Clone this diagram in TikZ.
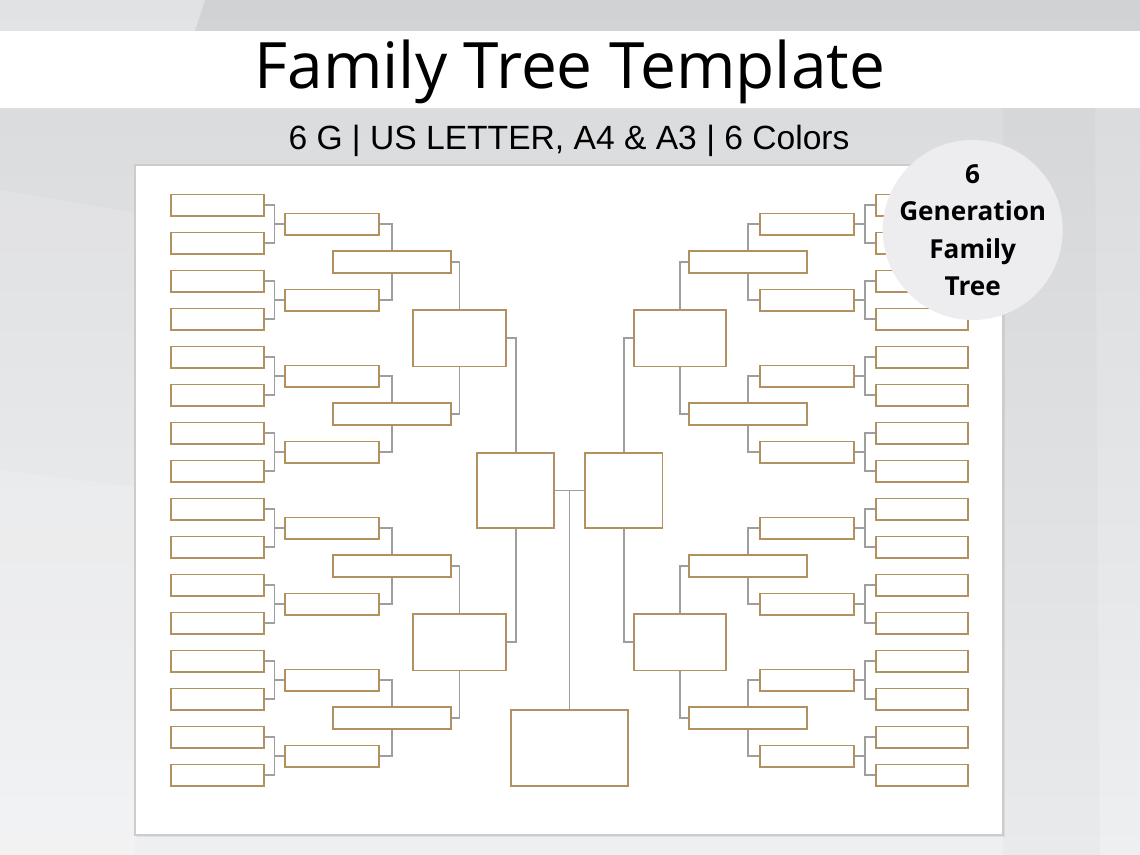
\documentclass[tikz,border=0pt]{standalone}
\usepackage{fontspec}
\setmainfont{Liberation Sans}
\newfontfamily\titlefont{Open Sans}
\newfontfamily\badgefont{Open Sans}
\usetikzlibrary{positioning,calc}
\definecolor{boxgold}{HTML}{B0915F}
\definecolor{linkgrey}{HTML}{9E9E9E}
\definecolor{bgtop}{HTML}{D8D9DB}
\definecolor{bgbottom}{HTML}{EEEFF1}
\definecolor{badgefill}{HTML}{EDEDEF}

\begin{document}
\begin{tikzpicture}[x=0.025cm, y=-0.025cm,
  box/.style={draw=boxgold, fill=white, line width=1.2pt, inner sep=0pt},
  gsix/.style={box, minimum width=2.31cm, minimum height=0.54cm},
  gfive/.style={box, minimum width=2.35cm, minimum height=0.54cm},
  gfour/.style={box, minimum width=2.95cm, minimum height=0.55cm},
  gthree/.style={box, minimum width=2.31cm, minimum height=1.41cm},
  gtwo/.style={box, minimum width=1.93cm, minimum height=1.89cm},
  gone/.style={box, minimum width=2.93cm, minimum height=1.89cm},
  link/.style={draw=linkgrey, line width=1.15pt}]
\useasboundingbox (0,0) rectangle (1140,855);
\fill[top color=bgtop, bottom color=bgbottom] (0,0) rectangle (1140,855);
\fill[white, opacity=.25] (0,0) -- (205,0) -- (195,31) -- (0,31) -- cycle;
\fill[black, opacity=.03] (205,0) -- (1140,0) -- (1140,31) -- (195,31) -- cycle;
\fill[white, opacity=.12] (0,190) -- (135,213) -- (135,855) -- (0,855) -- cycle;
\fill[white, opacity=.15] (0,470) -- (135,487) -- (135,855) -- (0,855) -- cycle;
\fill[black, opacity=.02] (1003,108) -- (1095,108) -- (1100,855) -- (1003,855) -- cycle;
\fill[white] (0,31) rectangle (1140,108);
\node[font=\titlefont\fontsize{45.5}{52}\selectfont, anchor=base] (title) at (570,88.3) {Family Tree Template};
\node[font=\fontsize{23.9}{28}\selectfont, anchor=base] (subtitle) at (569,149) {6 G | US LETTER, A4 \& A3 | 6 Colors};
\fill[black, opacity=.06] (137,167) rectangle (1005,837);
\draw[fill=white, draw=gray!40, line width=0.8pt] (135,165) rectangle (1003,835);
\foreach \k in {0,...,15}{\node[gsix] (l6-\k) at (217.5,{205.2+38*\k}) {}; \node[gsix] (r6-\k) at (922.1,{205.2+38*\k}) {};}
\foreach \j in {0,...,7}{\node[gfive] (l5-\j) at (332.3,{224.2+76*\j}) {}; \node[gfive] (r5-\j) at (807.3,{224.2+76*\j}) {};}
\foreach \i in {0,...,3}{\node[gfour] (l4-\i) at (391.7,{262.2+152*\i}) {}; \node[gfour] (r4-\i) at (747.9,{262.2+152*\i}) {};}
\foreach \h in {0,1}{\node[gthree] (l3-\h) at (459.5,{338.2+304*\h}) {}; \node[gthree] (r3-\h) at (680.1,{338.2+304*\h}) {};}
\node[gtwo] (l2) at (515.7,490.5) {};
\node[gtwo] (r2) at (623.9,490.5) {};
\node[gone] (root) at (569.5,748) {};
\foreach \j in {0,...,7}{
  \pgfmathtruncatemacro\a{2*\j}\pgfmathtruncatemacro\b{2*\j+1}
  \coordinate (lj-\j) at ($(l6-\a.east)!.5!(l5-\j.west)$);
  \coordinate (rj-\j) at ($(r6-\a.west)!.5!(r5-\j.east)$);
  \draw[link] (l6-\a.east) -| (lj-\j) |- (l6-\b.east) (lj-\j) |- (l5-\j.west);
  \draw[link] (r6-\a.west) -| (rj-\j) |- (r6-\b.west) (rj-\j) |- (r5-\j.east);}
\foreach \i in {0,...,3}{
  \pgfmathtruncatemacro\a{2*\i}\pgfmathtruncatemacro\b{2*\i+1}
  \draw[link] (l5-\a.east) -| (l4-\i.north);
  \draw[link] (l5-\b.east) -| (l4-\i.south);
  \draw[link] (r5-\a.west) -| (r4-\i.north);
  \draw[link] (r5-\b.west) -| (r4-\i.south);}
\foreach \h in {0,1}{
  \pgfmathtruncatemacro\a{2*\h}\pgfmathtruncatemacro\b{2*\h+1}
  \draw[link] (l4-\a.east) -| (l3-\h.north);
  \draw[link] (l4-\b.east) -| (l3-\h.south);
  \draw[link] (r4-\a.west) -| (r3-\h.north);
  \draw[link] (r4-\b.west) -| (r3-\h.south);}
\draw[link] (l3-0.east) -| (l2.north);
\draw[link] (l3-1.east) -| (l2.south);
\draw[link] (r3-0.west) -| (r2.north);
\draw[link] (r3-1.west) -| (r2.south);
\draw[link] (l2) -- (r2);
\draw[link] (root.north) -- (root.north |- l2.east);
\node[circle, fill=badgefill, minimum size=4.5cm, inner sep=0pt] (badge) at (972.7,230) {};
\node[font=\badgefont\bfseries\fontsize{18.6}{26.7}\selectfont, align=center] (badgetext) at (badge.center) {6\\Generation\\Family\\Tree};
\end{tikzpicture}
\end{document}
